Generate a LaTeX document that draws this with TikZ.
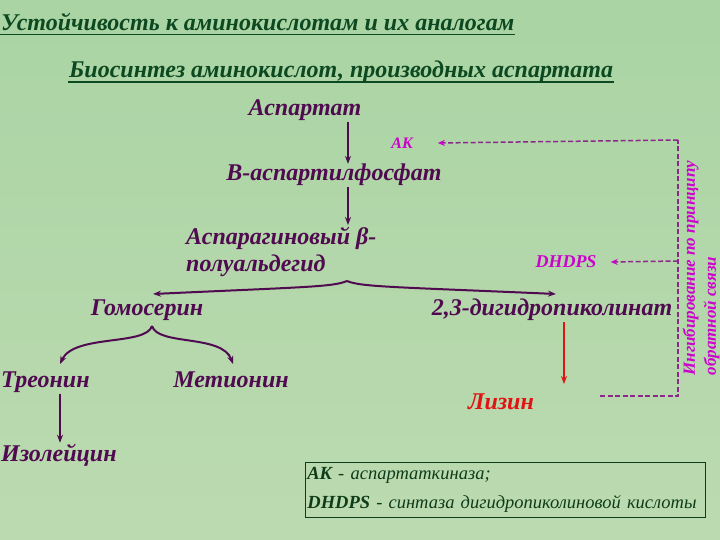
\documentclass[tikz,border=0pt]{standalone}
\usepackage{fontspec}
\setmainfont{Liberation Serif}
\usetikzlibrary{positioning,arrows.meta}

\definecolor{plum}{RGB}{80,10,80}
\definecolor{slidegreen}{RGB}{12,72,32}
\definecolor{keygreen}{RGB}{14,60,26}
\definecolor{enzyme}{RGB}{205,0,205}
\definecolor{feedback}{RGB}{140,40,140}
\definecolor{lysred}{RGB}{225,20,20}
\definecolor{bgtop}{RGB}{170,212,164}
\definecolor{bgbot}{RGB}{188,218,176}

\tikzset{
	compound/.style={text=plum, font=\fontsize{24}{27}\selectfont\bfseries\itshape, inner sep=1pt},
	heading/.style={text=slidegreen, font=\fontsize{24}{27}\selectfont\bfseries\itshape, inner sep=1pt},
	enzymelabel/.style={text=enzyme, font=\fontsize{16}{19}\selectfont\bfseries\itshape, inner sep=1pt},
	pathway/.style={plum, line width=2pt, -{Stealth[length=8pt,width=6pt]}},
	inhibit/.style={feedback, line width=1.5pt, dash pattern=on 5pt off 2.5pt},
	inhibittip/.style={-{Stealth[length=7pt,width=6pt,color=enzyme]}},
}

\begin{document}
\begin{tikzpicture}[x=1pt,y=-1pt]
	\useasboundingbox (0,0) rectangle (720,540);
	\shade[top color=bgtop, bottom color=bgbot] (0,0) rectangle (720,540);

	\node[heading, anchor=west] (title) at (0,22) {Устойчивость к аминокислотам и их аналогам};
	\draw[slidegreen, line width=1.8pt] ([yshift=-4pt]title.base west) -- ([yshift=-4pt]title.base east);
	\node[heading, anchor=west] (subtitle) at (68,72) {Биосинтез аминокислот, производных аспартата};
	\draw[slidegreen, line width=1.8pt] ([yshift=-4pt]subtitle.base west) -- ([yshift=-4pt]subtitle.base east);

	\node[compound] (asp) at (305,110) {Аспартат};
	\node[compound] (phos) at (334,175) {В-аспартилфосфат};
	\node[compound, align=left, anchor=west] (ald) at (185,252) {Аспарагиновый β-\\полуальдегид};
	\node[compound] (homo) at (147,310) {Гомосерин};
	\node[compound] (dhp) at (552,310) {2,3-дигидропиколинат};
	\node[compound, anchor=west] (threo) at (0,382) {Треонин};
	\node[compound] (meth) at (231,380) {Метионин};
	\node[compound, anchor=west] (iso) at (0,455) {Изолейцин};
	\node[compound, text=lysred] (lys) at (501,402) {Лизин};

	\node[enzymelabel] (ak) at (402,143) {AK};
	\node[enzymelabel, font=\fontsize{18}{21}\selectfont\bfseries\itshape] (dhdps) at (566,262) {DHDPS};
	\node[enzymelabel, font=\fontsize{17}{21}\selectfont\bfseries\itshape, rotate=90, align=left] (note) at (701,268) {Ингибирование по принципу\\обратной связи};

	\node[draw=keygreen, line width=0.8pt, text=keygreen, anchor=north west, align=left,
		text width=396pt, minimum height=55pt, inner sep=2pt,
		font=\fontsize{18.5}{29}\selectfont\itshape] (key) at (305,462)
		{\mbox{\textbf{AK} - аспартаткиназа;}\\\mbox{\textbf{DHDPS} - синтаза дигидропиколиновой кислоты}};

	\coordinate (trunk) at (348,0);
	\coordinate (split) at (347,281);
	\coordinate (homotip) at (153,294);
	\coordinate (dhptip) at (556,294);
	\coordinate (fork) at (152,326);
	\coordinate (threotip) at (60,364);
	\coordinate (methtip) at (233,364);
	\coordinate (lyscol) at (564,0);
	\coordinate (lystip) at (564,384);
	\coordinate (fbtop) at (678,140);
	\coordinate (fbmid) at (678,261);
	\coordinate (fbbot) at (678,396);
	\coordinate (fbend) at (600,396);

	\draw[pathway] (asp.south -| trunk) -- ([yshift=-1pt]phos.north -| trunk);
	\draw[pathway] (phos.south -| trunk) -- ([yshift=1pt]ald.north -| trunk);
	\draw[pathway] (split) .. controls (333,287) and (305,287) .. (homotip);
	\draw[pathway] (split) .. controls (361,287) and (395,287) .. (dhptip);
	\draw[pathway] (fork) .. controls (146,346) and (74,334) .. (threotip);
	\draw[pathway] (fork) .. controls (158,346) and (222,334) .. (methtip);
	\draw[pathway] (threo.south -| threotip) -- (iso.north -| threotip);
	\draw[pathway, lysred] (dhp.south -| lyscol) -- (lystip);

	\draw[inhibit] (fbend) -- (fbbot) -- (fbtop);
	\draw[inhibit, inhibittip] (fbtop) -- ([xshift=24pt]ak.east);
	\draw[inhibit, inhibittip] (fbmid) -- ([xshift=13pt]dhdps.east);
\end{tikzpicture}
\end{document}
